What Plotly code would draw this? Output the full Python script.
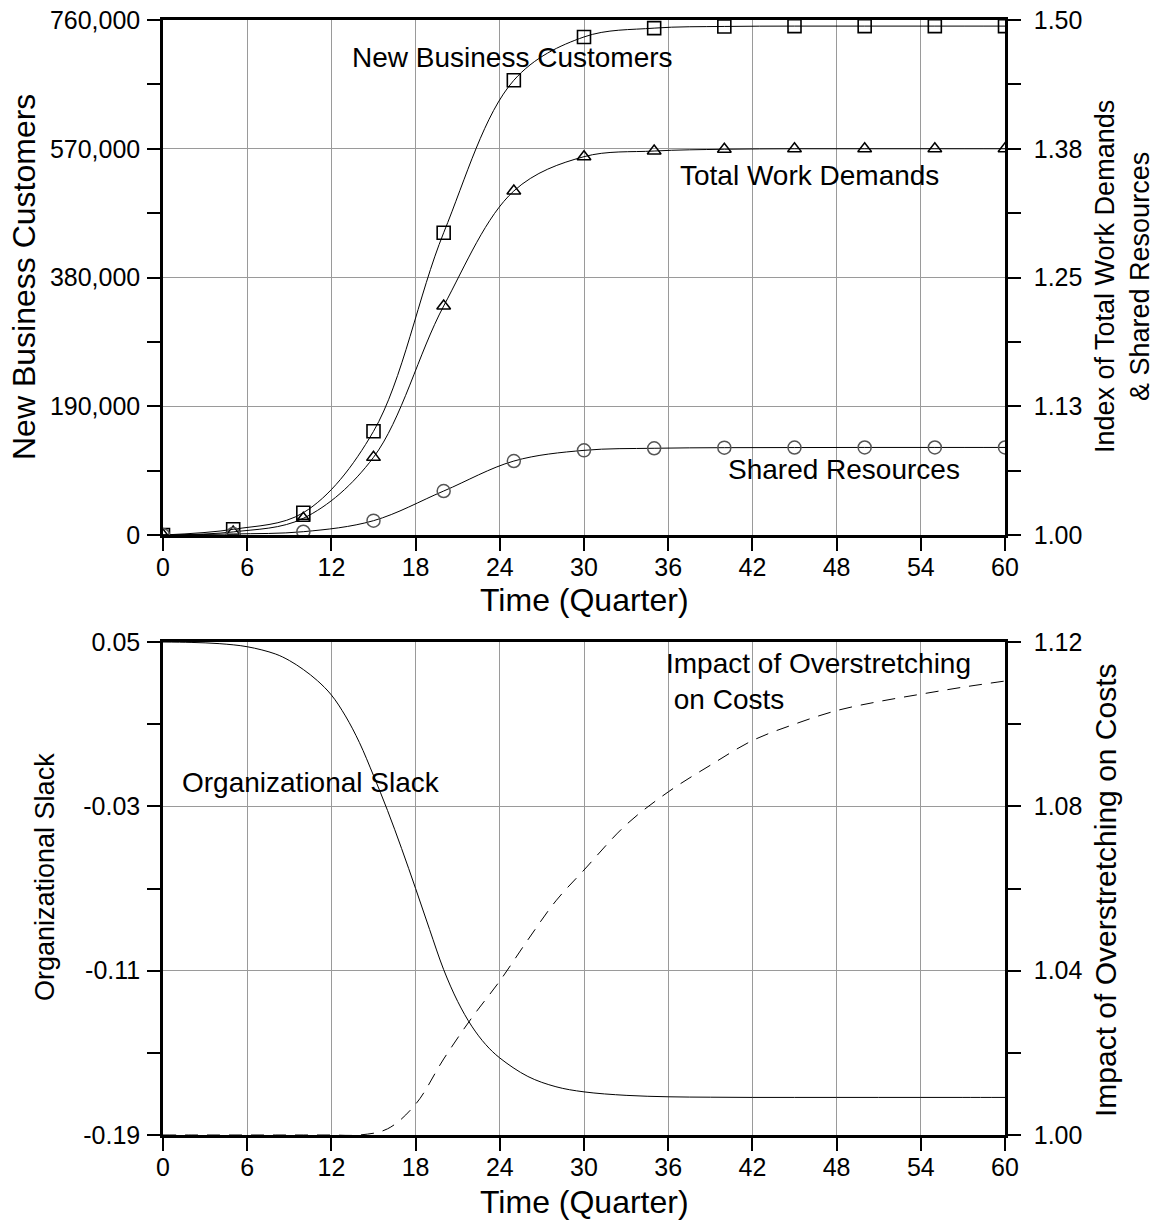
import plotly.graph_objects as go

# ---- data ----
quarters = [0, 5, 10, 15, 20, 25, 30, 35, 40, 45, 50, 55, 60]
new_business_customers = [0, 8400, 32900, 153000, 446000, 671000, 735000, 748000,
                          750500, 751000, 751000, 751000, 751000]
total_work_demands = [1.000, 1.003, 1.0162, 1.0754, 1.2223, 1.334, 1.3673, 1.3728,
                      1.3745, 1.375, 1.375, 1.375, 1.375]
shared_resources = [1.000, 1.001, 1.0032, 1.0139, 1.0427, 1.0718, 1.0822, 1.0842,
                    1.0848, 1.0849, 1.085, 1.085, 1.085]

t_slack = [0, 2, 4, 6, 8, 9, 10, 11, 12, 13, 14, 15, 16, 17, 18, 19, 20, 21, 22, 23,
           24, 26, 28, 30, 33, 36, 39, 42, 45, 48, 51, 54, 57, 60]
organizational_slack = [0.0500, 0.0498, 0.0492, 0.0477, 0.0442, 0.0410, 0.0366, 0.0312,
                        0.0242, 0.0140, 0.0010, -0.0150, -0.0320, -0.0505, -0.0700,
                        -0.0900, -0.1095, -0.1250, -0.1370, -0.1460, -0.1525, -0.1615,
                        -0.1665, -0.1690, -0.1707, -0.1714, -0.1716, -0.1717, -0.1717,
                        -0.1717, -0.1717, -0.1717, -0.1717, -0.1717]

t_impact = [0, 2, 4, 6, 8, 10, 12, 14, 16, 18, 20, 22, 24, 26, 28, 30,
            33, 36, 39, 42, 45, 48, 51, 54, 57, 60]
overstretch_impact = [1.0, 1.0, 1.0, 1.0, 1.0, 1.0, 1.0, 1.0, 1.0015, 1.0075, 1.0185,
                      1.0285, 1.0375, 1.0475, 1.057, 1.0645, 1.0755, 1.0835, 1.0900,
                      1.0960, 1.1000, 1.1033, 1.1055, 1.1073, 1.1090, 1.1105]

x_ticks = list(range(0, 61, 6))
cust_ticks = [0, 190000, 380000, 570000, 760000]
cust_labels = ['0', '190,000', '380,000', '570,000', '760,000']
index_ticks = [1.0, 1.125, 1.25, 1.375, 1.5]
index_labels = ['1.00', '1.13', '1.25', '1.38', '1.50']
slack_ticks = [-0.19, -0.11, -0.03, 0.05]
slack_labels = ['-0.19', '-0.11', '-0.03', '0.05']
impact_ticks = [1.00, 1.04, 1.08, 1.12]
impact_labels = ['1.00', '1.04', '1.08', '1.12']

W, H = 1160, 1226
FONT = 'Liberation Sans, Arial, sans-serif'


def px_x(p):
    return p / W


def px_y(p):
    return 1 - p / H


x_dom = [px_x(163), px_x(1005)]
top_dom = [px_y(535), px_y(20)]
bot_dom = [px_y(1135), px_y(642)]

fig = go.Figure()

fig.add_trace(go.Scatter(
    x=quarters, y=new_business_customers, mode='lines+markers',
    line=dict(color='black', width=1, shape='spline'),
    marker=dict(symbol='square-open', size=13, color='black', line=dict(width=1.6)),
    xaxis='x', yaxis='y', showlegend=False))
fig.add_trace(go.Scatter(
    x=quarters, y=total_work_demands, mode='lines+markers',
    line=dict(color='black', width=1, shape='spline'),
    marker=dict(symbol='triangle-up-open', size=12, color='black', line=dict(width=1.5)),
    xaxis='x', yaxis='y2', showlegend=False))
fig.add_trace(go.Scatter(
    x=quarters, y=shared_resources, mode='lines+markers',
    line=dict(color='black', width=1, shape='spline'),
    marker=dict(symbol='circle-open', size=13, color='#555555', line=dict(width=1.5)),
    xaxis='x', yaxis='y2', showlegend=False))

fig.add_trace(go.Scatter(
    x=t_slack, y=organizational_slack, mode='lines',
    line=dict(color='black', width=1, shape='spline'),
    xaxis='x2', yaxis='y3', showlegend=False))
fig.add_trace(go.Scatter(
    x=t_impact, y=overstretch_impact, mode='lines',
    line=dict(color='black', width=1, shape='spline', dash='13px,9px'),
    xaxis='x2', yaxis='y4', showlegend=False))

tickfont = dict(family=FONT, size=25, color='black')
common_x = dict(domain=x_dom, range=[0, 60], tickvals=x_ticks, ticks='outside',
                ticklen=13, tickwidth=2, tickcolor='black', showline=True,
                linewidth=2.5, linecolor='black', mirror=True, showgrid=True,
                gridcolor='#9a9a9a', gridwidth=1, zeroline=False, tickfont=tickfont,
                ticklabelstandoff=-5, layer='above traces')
common_y = dict(ticks='outside', ticklen=13, tickwidth=2, tickcolor='black',
                showline=True, linewidth=2.5, linecolor='black', zeroline=False,
                tickfont=tickfont, layer='above traces')

fig.update_layout(
    width=W, height=H, autosize=False,
    margin=dict(l=0, r=0, t=0, b=0, autoexpand=False),
    paper_bgcolor='white', plot_bgcolor='white',
    font=dict(family=FONT, color='black'),
    xaxis=dict(anchor='y', **common_x),
    xaxis2=dict(anchor='y3', **common_x),
    yaxis=dict(domain=top_dom, anchor='x', range=[0, 760000], tickvals=cust_ticks,
               ticktext=cust_labels, showgrid=True, gridcolor='#9a9a9a', gridwidth=1,
               minor=dict(tickvals=[95000, 285000, 475000, 665000], ticks='outside',
                          ticklen=13, tickwidth=2, tickcolor='black', showgrid=False),
               ticklabelstandoff=2, **common_y),
    yaxis2=dict(domain=top_dom, anchor='x', overlaying='y', side='right',
                range=[1.0, 1.5], tickvals=index_ticks, ticktext=index_labels,
                showgrid=False,
                minor=dict(tickvals=[1.0625, 1.1875, 1.3125, 1.4375], ticks='outside',
                           ticklen=13, tickwidth=2, tickcolor='black', showgrid=False),
                ticklabelstandoff=8, **common_y),
    yaxis3=dict(domain=bot_dom, anchor='x2', range=[-0.19, 0.05], tickvals=slack_ticks,
                ticktext=slack_labels, showgrid=True, gridcolor='#9a9a9a', gridwidth=1,
                minor=dict(tickvals=[-0.15, -0.07, 0.01], ticks='outside',
                           ticklen=13, tickwidth=2, tickcolor='black', showgrid=False),
                ticklabelstandoff=2, **common_y),
    yaxis4=dict(domain=bot_dom, anchor='x2', overlaying='y3', side='right',
                range=[1.0, 1.12], tickvals=impact_ticks, ticktext=impact_labels,
                showgrid=False,
                minor=dict(tickvals=[1.02, 1.06, 1.10], ticks='outside',
                           ticklen=13, tickwidth=2, tickcolor='black', showgrid=False),
                ticklabelstandoff=8, **common_y),
)

lab = dict(family=FONT, size=28, color='black')
# series labels
fig.add_annotation(x=13.3, y=705000, xref='x', yref='y', text='New Business Customers',
                   showarrow=False, xanchor='left', yanchor='middle', font=lab)
fig.add_annotation(x=36.7, y=530000, xref='x', yref='y', text='Total Work Demands',
                   showarrow=False, xanchor='left', yanchor='middle', font=lab)
fig.add_annotation(x=40.1, y=96000, xref='x', yref='y', text='Shared Resources',
                   showarrow=False, xanchor='left', yanchor='middle', font=lab)
fig.add_annotation(x=1.2, y=-0.0186, xref='x2', yref='y3', text='Organizational Slack',
                   showarrow=False, xanchor='left', yanchor='middle', font=lab)
fig.add_annotation(x=35.7, y=1.1103, xref='x2', yref='y4',
                   text='Impact of Overstretching<br>\u00a0on Costs', align='left',
                   showarrow=False, xanchor='left', yanchor='middle', font=lab)

# axis titles (positions in reference pixels)
titles = [
    ('New Business Customers', 24, 277, -90, 32),
    ('Index of Total Work Demands<br>& Shared Resources', 1122, 277, -90, 27),
    ('Time (Quarter)', 584, 600, 0, 32),
    ('Organizational Slack', 45, 877, -90, 27),
    ('Impact of Overstretching on Costs', 1105, 890, -90, 30),
    ('Time (Quarter)', 584, 1202, 0, 32),
]
for text, px, py, ang, size in titles:
    fig.add_annotation(x=px_x(px), y=px_y(py), xref='paper', yref='paper', text=text,
                       textangle=ang, showarrow=False, xanchor='center', yanchor='middle',
                       font=dict(family=FONT, size=size, color='black'))

# drop the page's default 8px body margin so the figure fills the window
fig.write_html("out.html", config={'displayModeBar': False},
               post_script="document.body.style.margin = '0';")
